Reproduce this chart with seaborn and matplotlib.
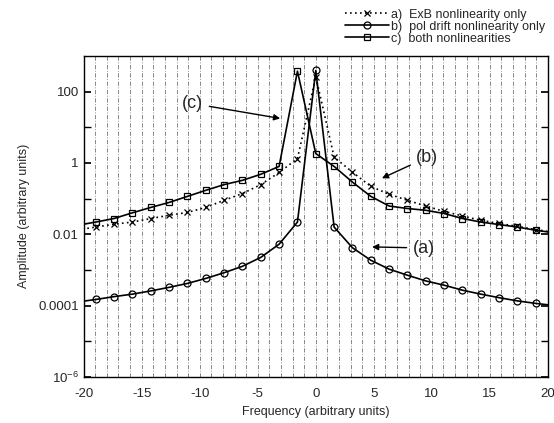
import numpy as np
import pandas as pd
import matplotlib
matplotlib.use("Agg")
import matplotlib.pyplot as plt
from matplotlib.ticker import FixedLocator, NullFormatter, NullLocator
import seaborn as sns

# frequency points (arbitrary units)
freq = [-20.54, -18.96, -17.38, -15.80, -14.22, -12.64, -11.06, -9.48, -7.90, -6.32, -4.74, -3.16, -1.58,
        0.0, 1.58, 3.16, 4.74, 6.32, 7.90, 9.48, 11.06, 12.64, 14.22, 15.80, 17.38, 18.96, 20.54]

# log10 of amplitude
log_exb = [-1.88, -1.80, -1.72, -1.66, -1.56, -1.47, -1.39, -1.25, -1.05, -0.86, -0.61, -0.27, 0.12,
           2.42, 0.16, -0.26, -0.66, -0.88, -1.05, -1.21, -1.36, -1.49, -1.61, -1.70, -1.78, -1.87, -1.95]
log_pol = [-3.90, -3.83, -3.75, -3.68, -3.59, -3.49, -3.38, -3.24, -3.08, -2.90, -2.65, -2.28, -1.66,
           2.59, -1.80, -2.38, -2.73, -2.98, -3.15, -3.31, -3.43, -3.57, -3.68, -3.78, -3.87, -3.94, -4.00]
log_both = [-1.75, -1.66, -1.56, -1.40, -1.25, -1.11, -0.94, -0.77, -0.61, -0.49, -0.32, -0.10, 2.57,
            0.26, -0.10, -0.54, -0.94, -1.21, -1.28, -1.33, -1.42, -1.56, -1.66, -1.73, -1.80, -1.89, -1.96]

labels = ["a)  ExB nonlinearity only", "b)  pol drift nonlinearity only", "c)  both nonlinearities"]
yticks = [1e-6, 1e-4, 1e-2, 1, 100]
ytick_labels = ["10$^{-6}$", "0.0001", "0.01", "1", "100"]
xticks = [-20, -15, -10, -5, 0, 5, 10, 15, 20]

sns.set_theme(style="ticks")
plt.rcParams['font.family'] = ['Liberation Sans', 'DejaVu Sans']
plt.rcParams['mathtext.fontset'] = 'custom'
plt.rcParams['mathtext.rm'] = 'Liberation Sans'

df = pd.DataFrame({'freq': freq * 3,
                   'amp': list(10 ** np.array(log_exb)) + list(10 ** np.array(log_pol)) + list(10 ** np.array(log_both)),
                   'series': [labels[0]] * len(freq) + [labels[1]] * len(freq) + [labels[2]] * len(freq)})

fig, ax = plt.subplots(figsize=(5.54, 4.23), dpi=100)
fig.subplots_adjust(left=0.151, right=0.989, bottom=0.109, top=0.868)

styles = {labels[0]: ((0, (1, 2)), 'x'),
          labels[1]: ('-', 'o'),
          labels[2]: ('-', 's')}
series_lines = []
for lab in labels:
    sub = df[df['series'] == lab]
    sns.lineplot(data=sub, x='freq', y='amp', ax=ax, color='black', linewidth=1.2, sort=False)
    ln = ax.lines[-1]
    ls, mk = styles[lab]
    ln.set_linestyle(ls)
    ln.set_marker(mk)
    ln.set_markersize(5)
    ln.set_markeredgewidth(0.9)
    ln.set_markerfacecolor('none')
    ln.set_markeredgecolor('black')
    series_lines.append(ln)

ax.set_yscale('log')
ax.set_xlim(-20, 20)
ax.set_ylim(1e-6, 1e3)

# vertical grid at every unit
for gx in range(-19, 20):
    ax.axvline(gx, color='black', linewidth=0.6, linestyle=(0, (5, 2, 1, 2)), alpha=0.55, zorder=0)

ax.yaxis.set_major_locator(FixedLocator(yticks))
ax.set_yticklabels(ytick_labels)
ax.yaxis.set_minor_locator(FixedLocator([10.0 ** k for k in range(-5, 3)]))
ax.yaxis.set_minor_formatter(NullFormatter())
ax.set_xticks(xticks)
ax.set_xticklabels([str(t) for t in xticks])
ax.xaxis.set_minor_locator(NullLocator())
ax.tick_params(axis='both', which='both', direction='in', right=True, labelsize=9.5, color='black')
ax.tick_params(axis='y', which='both', length=5)
ax.tick_params(axis='x', length=0, pad=8)
for s in ax.spines.values():
    s.set_color('black')
    s.set_linewidth(1.0)

ax.set_xlabel("Frequency (arbitrary units)", fontsize=9, labelpad=4)
ax.set_ylabel("Amplitude (arbitrary units)", fontsize=9, labelpad=6)

arrow = dict(arrowstyle='-|>', color='black', lw=1.0, mutation_scale=9, shrinkA=2, shrinkB=0)
ax.annotate("(c)", xy=(-3.07, 17.6), xytext=(-10.6, 46), fontsize=13, ha='center', va='center', arrowprops=arrow)
ax.annotate("(b)", xy=(5.7, 0.37), xytext=(9.6, 1.43), fontsize=13, ha='center', va='center', arrowprops=arrow)
ax.annotate("(a)", xy=(4.85, 0.0044), xytext=(9.3, 0.0041), fontsize=13, ha='center', va='center', arrowprops=arrow)

if ax.get_legend() is not None:
    ax.get_legend().remove()
fig.legend(series_lines, labels, loc='upper right', bbox_to_anchor=(1.0, 1.0), frameon=False, fontsize=9,
           handlelength=3.5, handletextpad=0.2, labelspacing=0.0, borderaxespad=0.3)

fig.savefig("out.png", dpi=100)
